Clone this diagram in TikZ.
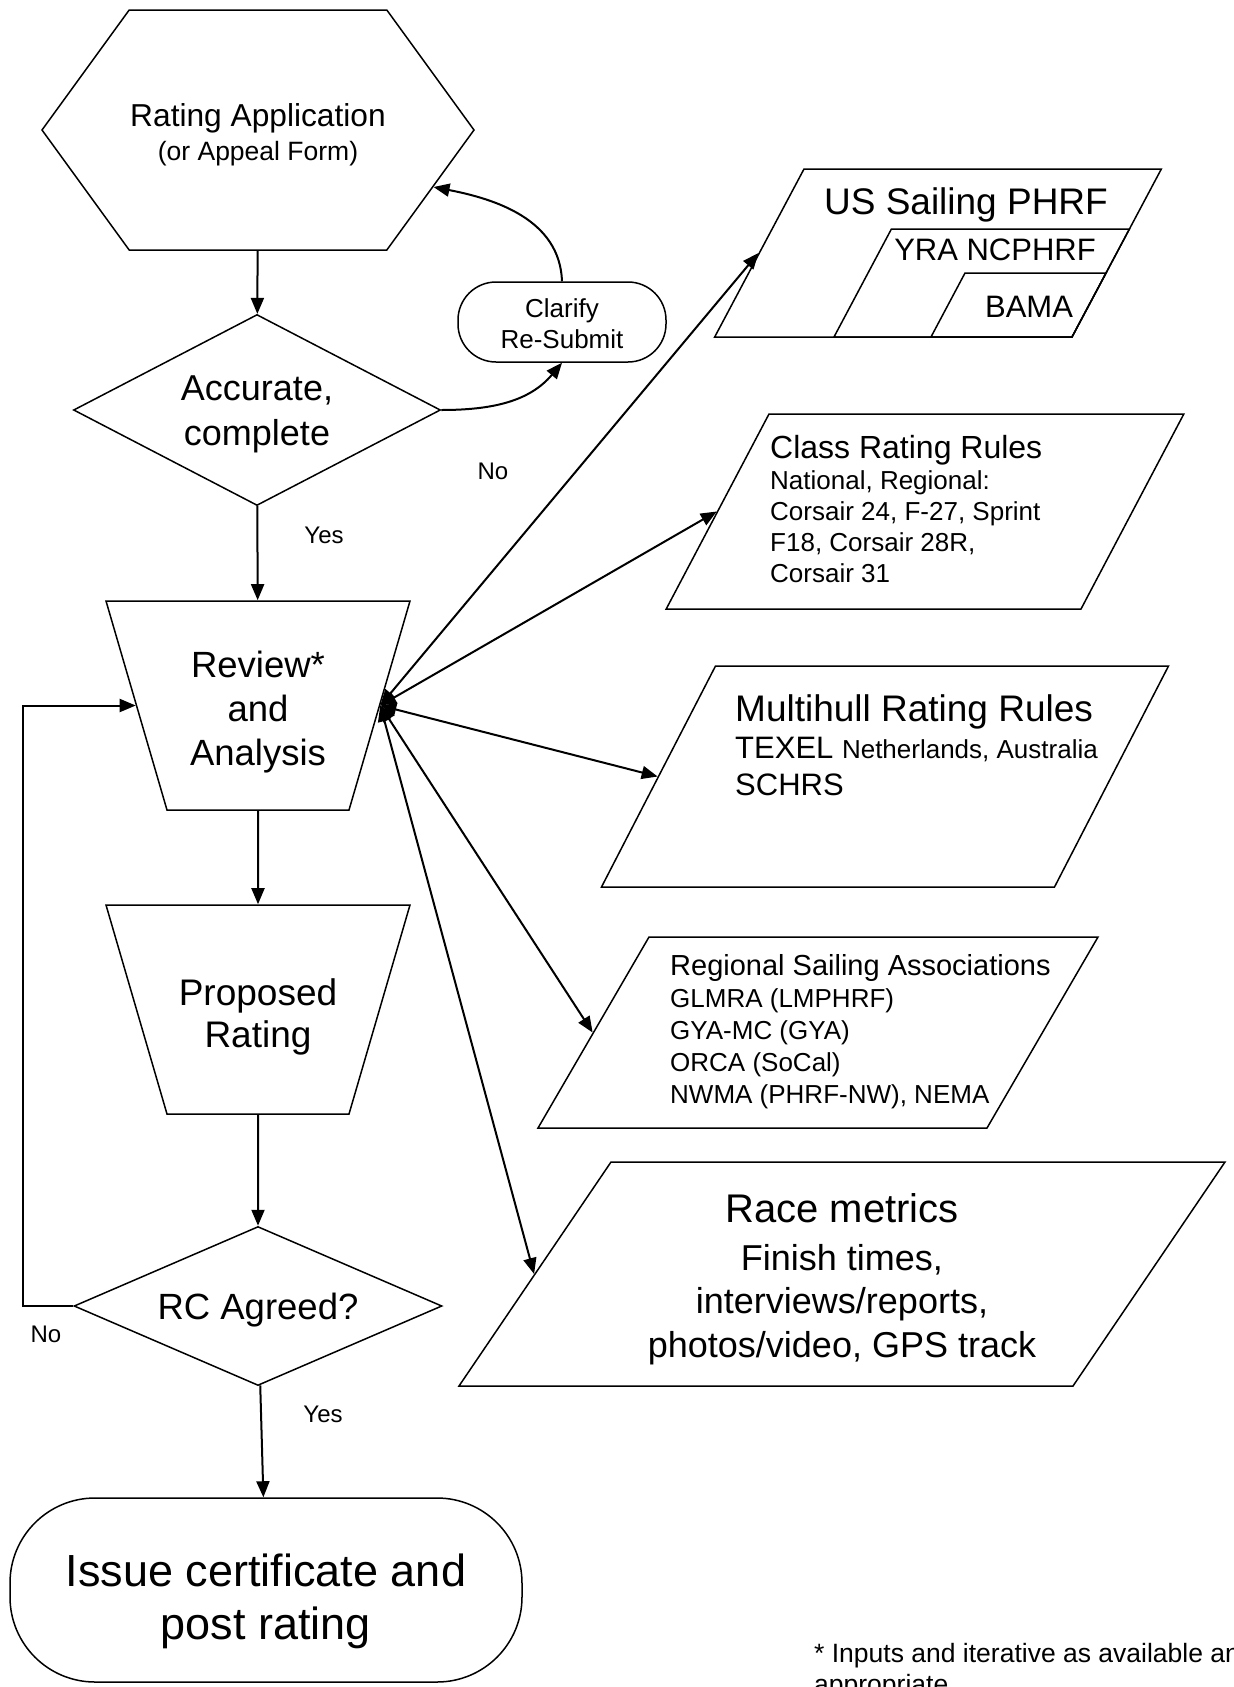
\documentclass[tikz,border=0pt]{standalone}
\usepackage{fontspec}
\setmainfont{Liberation Sans}
\usetikzlibrary{shapes.geometric,shapes.symbols,arrows.meta}
\newcommand\txtsize[2]{\fontsize{#1}{#2}\selectfont}

\tikzset{
  >={Triangle[length=16pt,width=13pt]},
  box/.style={draw,line width=1.5pt,align=center,inner sep=0pt,text depth=0pt},
  decide/.style={box,diamond},
  funnel/.style={box,trapezium,trapezium angle=73.73,shape border rotate=180,
    text width=182pt,text height=209pt},
  source/.style n args={3}{box,trapezium,trapezium left angle=#1,
    trapezium right angle={180-#1},text width=#2,text height=#3},
  conn/.style={line width=2pt},
  note/.style={inner sep=0pt,align=left},
}

\begin{document}
\begin{tikzpicture}[x=1pt,y=1pt]
  \useasboundingbox (0,0) rectangle (1234,-1687);

  % main column
  \node[box,signal,signal to=east and west,signal pointer angle=108,
    minimum width=432pt,minimum height=240pt,font=\txtsize{31.7}{34},text height=60pt] (app) at (258,-130)
    {Rating Application\\\txtsize{26.5}{34}(or Appeal Form)};
  \node[decide,aspect=1.9,minimum width=367pt,minimum height=191pt,
    font=\txtsize{36}{45},text height=70pt] (acc) at (257,-410) {Accurate,\\complete};
  \node[box,rounded corners=38pt,minimum width=208pt,minimum height=80pt,
    font=\txtsize{26}{31},text height=52pt] (clar) at (562,-322) {Clarify\\Re-Submit};
  \node[funnel] (review) at (258,-705.5) {};
  \node[note,align=center,font=\txtsize{36.5}{44},text height=119pt,text depth=0pt] (reviewtxt) at (review) {Review*\\and\\Analysis};
  \node[funnel] (prop) at (258,-1009.5) {};
  \node[note,align=center,font=\txtsize{37}{42},text height=75.6pt,text depth=0pt] (proptxt) at (prop) {Proposed\\Rating};
  \node[decide,aspect=2.3,minimum width=368pt,minimum height=159pt,
    font=\txtsize{36.5}{44},text height=26pt] (rc) at (258,-1306) {RC Agreed?};
  \node[box,rounded corners=85pt,minimum width=512pt,minimum height=184pt,
    font=\txtsize{45}{53},text height=98pt] (issue) at (266,-1590) {Issue certificate and\\post rating};

  % rating sources
  \node[source={62}{268pt}{168pt}] (us) at (938,-253) {};
  \node[source={62}{180.6pt}{108pt},anchor=bottom right corner] (yra) at (us.bottom right corner) {};
  \node[source={62}{107pt}{64pt},anchor=bottom right corner] (bama) at (us.bottom right corner) {};
  \node[source={62.2}{312pt}{195pt}] (class) at (925,-511.5) {};
  \node[source={62.71}{339pt}{221pt}] (multi) at (885,-776.5) {};
  \node[source={59.84}{338pt}{191pt}] (reg) at (818,-1032.5) {};
  \node[source={55.84}{462pt}{224pt}] (race) at (842,-1274) {};

  \node[note,font=\txtsize{37}{44},anchor=base] (ustxt) at (966,-214) {US Sailing PHRF};
  \node[note,font=\txtsize{31}{37},anchor=base] (yratxt) at (995,-260) {YRA NCPHRF};
  \node[note,font=\txtsize{31}{37},anchor=base] (bamatxt) at (1029,-317) {BAMA};
  \node[note,font=\txtsize{26}{31},anchor=north west] (classtxt) at (770,-435)
    {\txtsize{32}{31}Class Rating Rules\\National, Regional:\\Corsair 24, F-27, Sprint\\F18, Corsair 28R,\\Corsair 31};
  \node[note,font=\txtsize{31}{37},anchor=north west] (multitxt) at (735,-694)
    {\txtsize{37}{41}Multihull Rating Rules\\TEXEL {\txtsize{26}{37}Netherlands, Australia}\\SCHRS};
  \node[note,font=\txtsize{26}{32},anchor=north west] (regtxt) at (670,-954)
    {\txtsize{29}{32}Regional Sailing Associations\\GLMRA (LMPHRF)\\GYA-MC (GYA)\\ORCA (SoCal)\\NWMA (PHRF-NW), NEMA};
  \node[note,align=center,font=\txtsize{36}{43.5},text height=166pt,text depth=0pt] (racetxt) at (race)
    {\txtsize{40}{48}Race metrics\\[4pt]Finish times,\\interviews/reports,\\photos/video, GPS track};

  % labels
  \node[note,font=\txtsize{24}{29},anchor=base] (noa) at (493,-479) {No};
  \node[note,font=\txtsize{24}{29},anchor=base] (yesa) at (324,-543) {Yes};
  \node[note,font=\txtsize{24}{29},anchor=base] (nob) at (46,-1342) {No};
  \node[note,font=\txtsize{24}{29},anchor=base] (yesb) at (323,-1422) {Yes};
  \node[note,font=\txtsize{26.5}{31},anchor=north west] (foot) at (814,-1643)
    {* Inputs and iterative as available and\\appropriate};

  % flow
  \draw[conn,->] (app) -- (acc);
  \draw[conn,->] (acc) -- (review);
  \draw[conn,->] (review) -- (prop);
  \draw[conn,->] (prop) -- (rc);
  \draw[conn,->] (rc) -- (issue);
  \draw[conn,->] (acc.east) to[out=0,in=-130] (clar.south);
  \draw[conn,->] (clar.north) to[out=92,in=-11] (app.-18);
  \draw[conn,->] (rc.west) -- ++(-50,0) |- (review.180);

  % inputs to review
  \draw[conn,<->] (review.0) -- (us.west);
  \draw[conn,<->] (review.0) -- (class.west);
  \draw[conn,<->] (review.0) -- (multi.west);
  \draw[conn,<->] (review.0) -- (reg.west);
  \draw[conn,<->] (review.0) -- (race.west);
\end{tikzpicture}
\end{document}
